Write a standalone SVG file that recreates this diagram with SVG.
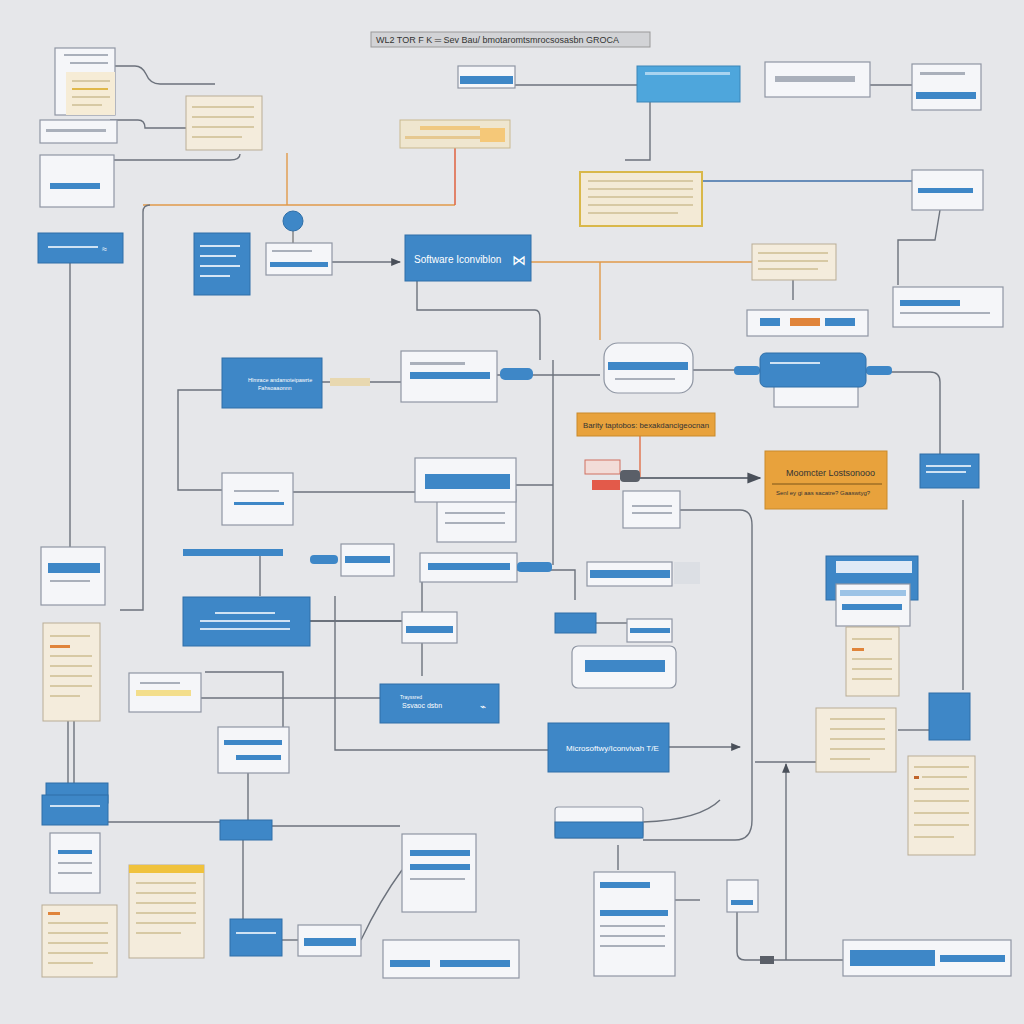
<svg xmlns="http://www.w3.org/2000/svg" width="1024" height="1024" viewBox="0 0 1024 1024">
<style>
.bg{fill:#e6e7ea}
.blue{fill:#3e87c7;stroke:#2f6fa8;stroke-width:1}
.card{fill:#f5f6f9;stroke:#8f96a3;stroke-width:1.2}
.beige{fill:#f4ecdc;stroke:#b9ad95;stroke-width:1}
.bar{fill:#3e87c7}
.ln{fill:#aab0bb}
.ly{fill:#d7c9a4}
.c{fill:none;stroke:#6c727c;stroke-width:1.4}
.co{fill:none;stroke:#e09a4a;stroke-width:1.4}
.cr{fill:none;stroke:#e06a4a;stroke-width:1.6}
.cb{fill:none;stroke:#3e6fa8;stroke-width:1.4}
.t{font-family:"Liberation Sans",Arial,sans-serif;fill:#fff}
.td{font-family:"Liberation Sans",Arial,sans-serif;fill:#333}
</style>
<defs>
<marker id="ar" viewBox="0 0 10 10" refX="9" refY="5" markerWidth="7" markerHeight="7" orient="auto"><path d="M0,1 L10,5 L0,9 z" fill="#4a505a"/></marker>
</defs>
<rect class="bg" width="1024" height="1024"/>

<g id="connectors">
<path class="c" d="M115,66 H135 Q142,66 146,74 Q150,84 160,84 H215"/>
<path class="c" d="M110,120 H138 Q145,120 145,128 H186"/>
<path class="c" d="M114,160 H230 Q240,160 240,154"/>
<path class="co" d="M287,153 V205"/>
<path class="co" d="M143,205 H455"/>
<path class="cr" d="M455,148 V205"/>
<path class="c" d="M150,205 Q143,205 143,212 V610 H120"/>
<path class="c" d="M70,263 V547"/>
<path class="c" d="M515,85 H637"/>
<path class="c" d="M870,85 H912"/>
<path class="c" d="M650,102 V160 H625"/>
<path class="cb" d="M702,181 H912"/>
<path class="c" d="M940,210 L935,240 H898 V285"/>
<path class="c" d="M332,262 H400" marker-end="url(#ar)"/>
<path class="co" d="M531,262 H752"/>
<path class="co" d="M600,262 V340"/>
<path class="c" d="M793,280 V300"/>
<path class="c" d="M417,281 V310 H535 Q540,310 540,318 V360"/>
<path class="c" d="M497,375 H600"/>
<path class="c" d="M553,360 V565"/>
<path class="c" d="M693,370 H760"/>
<path class="c" d="M866,372 H930 Q940,372 940,382 V454"/>
<path class="c" d="M222,390 H178 V490 H222"/>
<path class="c" d="M322,382 H401"/>
<path class="c" d="M293,492 H415"/>
<path class="c" d="M516,485 H553"/>
<path class="co" d="M640,436 V478" style="stroke:#e0704a"/>
<path class="c" d="M620,478 H760" marker-end="url(#ar)" style="stroke-width:2"/>
<path class="c" d="M963,500 V690"/>
<path class="c" d="M680,510 H740 Q752,510 752,525 V820 Q752,840 735,840 H643"/>
<path class="c" d="M517,570 H553 H575 V600"/>
<path class="c" d="M310,621 H402" style="stroke-width:2"/>
<path class="c" d="M335,596 V750 H548"/>
<path class="c" d="M260,556 V596"/>
<path class="c" d="M422,580 V612"/>
<path class="c" d="M422,643 V676"/>
<path class="c" d="M596,623 H627"/>
<path class="c" d="M669,747 H740" marker-end="url(#ar)"/>
<path class="c" d="M201,698 H380"/>
<path class="c" d="M205,672 H283 V727"/>
<path class="c" d="M68,721 V783"/>
<path class="c" d="M74,721 V783"/>
<path class="c" d="M108,822 H220"/>
<path class="c" d="M272,826 H400"/>
<path class="c" d="M243,840 V919"/>
<path class="c" d="M248,773 V820"/>
<path class="c" d="M282,940 H298"/>
<path class="c" d="M361,940 Q380,900 402,870"/>
<path class="c" d="M643,822 Q700,820 720,800"/>
<path class="c" d="M755,762 H816"/>
<path class="c" d="M786,960 V764" marker-end="url(#ar)"/>
<path class="c" d="M737,912 V952 Q737,960 745,960 H843"/>
<path class="c" d="M675,900 H700"/>
<path class="c" d="M898,730 H929"/>
<path class="c" d="M618,845 V870"/>
</g>

<g id="title">
<rect x="371" y="32" width="279" height="15" fill="#d2d3d6" stroke="#999"/>
<text class="td" x="376" y="43" font-size="9">WL2 TOR  F  K  ═ Sev Bau/ bmotaromtsmrocsosasbn GROCA</text>
</g>

<g id="n1"><rect class="card" x="55" y="48" width="60" height="67"/><rect fill="#f6ecd6" x="66" y="72" width="49" height="43"/><rect class="ln" x="64" y="54" width="44" height="2"/><rect class="ln" x="70" y="62" width="38" height="2"/><rect class="ly" x="72" y="80" width="38" height="2"/><rect x="72" y="88" width="36" height="2" fill="#e0b84a"/><rect class="ly" x="72" y="96" width="38" height="2"/><rect class="ly" x="72" y="104" width="30" height="2"/></g>
<g id="n2"><rect class="beige" x="186" y="96" width="76" height="54"/><rect class="ly" x="192" y="106" width="62" height="2"/><rect class="ly" x="192" y="116" width="62" height="2"/><rect class="ly" x="192" y="126" width="62" height="2"/><rect class="ly" x="192" y="136" width="50" height="2"/></g>
<g id="n3"><rect class="card" x="40" y="120" width="77" height="23"/><rect class="ln" x="46" y="129" width="60" height="3"/></g>
<g id="n4"><rect class="card" x="40" y="155" width="74" height="52"/><rect class="bar" x="50" y="183" width="50" height="6"/></g>
<g id="n5"><rect class="blue" x="38" y="233" width="85" height="30"/><rect x="48" y="246" width="50" height="2" fill="#cfe2f3"/><text class="t" x="102" y="252" font-size="9">≈</text></g>
<g id="n6"><rect class="blue" x="194" y="233" width="56" height="62"/><rect x="200" y="245" width="40" height="2" fill="#d6e6f5"/><rect x="200" y="255" width="36" height="2" fill="#d6e6f5"/><rect x="200" y="265" width="40" height="2" fill="#d6e6f5"/><rect x="200" y="275" width="30" height="2" fill="#d6e6f5"/></g>
<g id="n7"><line x1="293" y1="231" x2="293" y2="243" stroke="#555"/><circle cx="293" cy="221" r="10" fill="#3e87c7" stroke="#2f6fa8"/><rect class="card" x="266" y="243" width="66" height="32"/><rect class="bar" x="270" y="262" width="58" height="5"/><rect class="ln" x="272" y="250" width="40" height="2"/></g>
<g id="n8"><rect class="blue" x="405" y="235" width="126" height="46"/><text class="t" x="414" y="263" font-size="10">Software Iconviblon</text><text class="t" x="512" y="265" font-size="14">⋈</text></g>
<g id="n9"><rect fill="#efe6cf" stroke="#c9b98f" x="400" y="120" width="110" height="28"/><rect x="420" y="126" width="60" height="4" fill="#f0c880"/><rect x="405" y="136" width="100" height="3" fill="#e6c890"/><rect x="480" y="128" width="25" height="14" fill="#f5c878"/></g>
<g id="n10"><rect class="card" x="458" y="66" width="57" height="22"/><rect class="bar" x="460" y="76" width="53" height="8"/></g>
<g id="n11"><rect x="637" y="66" width="103" height="36" fill="#4ea6dc" stroke="#3a86b8"/><rect x="645" y="72" width="85" height="3" fill="#a9d4f0"/></g>
<g id="n12"><rect class="card" x="765" y="62" width="105" height="35"/><rect class="ln" x="775" y="76" width="80" height="6"/></g>
<g id="n13"><rect class="card" x="912" y="64" width="69" height="46"/><rect class="bar" x="916" y="92" width="60" height="7"/><rect class="ln" x="920" y="72" width="45" height="3"/></g>
<g id="n14"><rect fill="#f3ead6" stroke="#d9b84a" stroke-width="2" x="580" y="172" width="122" height="54"/><rect class="ly" x="588" y="180" width="105" height="2"/><rect class="ly" x="588" y="188" width="105" height="2"/><rect class="ly" x="588" y="196" width="105" height="2"/><rect class="ly" x="588" y="204" width="105" height="2"/><rect class="ly" x="588" y="212" width="90" height="2"/></g>
<g id="n15"><rect class="card" x="912" y="170" width="71" height="40"/><rect class="bar" x="918" y="188" width="55" height="5"/></g>
<g id="n16"><rect class="beige" x="752" y="244" width="84" height="36"/><rect class="ly" x="758" y="252" width="70" height="2"/><rect class="ly" x="758" y="260" width="70" height="2"/><rect class="ly" x="758" y="268" width="60" height="2"/></g>
<g id="n17"><rect class="card" x="893" y="287" width="110" height="40"/><rect class="bar" x="900" y="300" width="60" height="6"/><rect class="ln" x="900" y="312" width="90" height="2"/></g>
<g id="n18"><rect class="card" x="747" y="310" width="121" height="26"/><rect x="760" y="318" width="20" height="8" fill="#3e87c7"/><rect x="790" y="318" width="30" height="8" fill="#e0843a"/><rect x="825" y="318" width="30" height="8" fill="#3e87c7"/></g>
<g id="n19"><rect class="card" x="604" y="343" width="89" height="50" rx="14"/><rect class="bar" x="608" y="362" width="80" height="8"/><rect class="ln" x="615" y="378" width="60" height="2"/></g>
<g id="n20"><rect class="card" x="774" y="385" width="84" height="22"/><rect x="734" y="366" width="26" height="9" rx="4" fill="#3e87c7"/><rect x="866" y="366" width="26" height="9" rx="4" fill="#3e87c7"/><rect class="blue" x="760" y="353" width="106" height="34" rx="6"/><rect x="770" y="362" width="50" height="2" fill="#cfe2f3"/></g>
<g id="n21"><rect class="blue" x="222" y="358" width="100" height="50"/><text class="t" x="248" y="382" font-size="5.5">Hlmrace andamoteipawrte</text><text class="t" x="258" y="390" font-size="5.5">Fahsoaaonnn</text></g>
<g id="n22"><rect class="card" x="401" y="351" width="96" height="51" stroke-width="1.8"/><rect class="bar" x="410" y="372" width="80" height="7"/><rect class="ln" x="410" y="362" width="55" height="3"/></g>
<g id="n23"><rect x="500" y="368" width="33" height="12" rx="5" fill="#3e87c7"/><rect x="330" y="378" width="40" height="8" fill="#e8d8b0"/></g>
<g id="n24"><rect x="577" y="413" width="138" height="23" fill="#e8a23c" stroke="#c98a2a"/><text class="td" x="583" y="428" font-size="8" textLength="126" lengthAdjust="spacingAndGlyphs" fill="#4a2e0a">Barity taptobos: bexakdancigeocnan</text></g>
<g id="n25"><rect x="765" y="451" width="122" height="58" fill="#e8a23c" stroke="#c98a2a"/><text class="td" x="786" y="476" font-size="9">Moomcter Lostsonooo</text><line x1="772" y1="484" x2="882" y2="484" stroke="#7a5418"/><text class="td" x="776" y="495" font-size="6">Senl ey gi aas sacatre?   Gaaswtyg?</text></g>
<g id="n26"><rect class="blue" x="920" y="454" width="59" height="34"/><rect x="926" y="465" width="45" height="2" fill="#cfe2f3"/><rect x="926" y="471" width="40" height="2" fill="#cfe2f3"/></g>
<g id="n27"><rect x="585" y="460" width="35" height="14" fill="#f2dcd8" stroke="#d07060"/><rect x="592" y="480" width="28" height="10" fill="#e35a4a"/><rect x="620" y="470" width="20" height="12" rx="4" fill="#5a5f68"/></g>
<g id="n28"><rect class="card" x="222" y="473" width="71" height="52" stroke-width="1.8"/><rect class="bar" x="234" y="502" width="50" height="3"/><rect class="ln" x="234" y="490" width="45" height="2"/></g>
<g id="n29"><rect class="card" x="437" y="490" width="79" height="52"/><rect class="card" x="415" y="458" width="101" height="44" stroke-width="1.8"/><rect class="bar" x="425" y="474" width="85" height="15"/><rect class="ln" x="445" y="512" width="60" height="2"/><rect class="ln" x="445" y="522" width="60" height="2"/></g>
<g id="n30"><rect class="card" x="623" y="491" width="57" height="37"/><rect class="ln" x="632" y="505" width="40" height="2"/><rect class="ln" x="632" y="512" width="40" height="2"/></g>
<g id="n31"><rect class="card" x="41" y="547" width="64" height="58"/><rect class="bar" x="48" y="563" width="52" height="10"/><rect class="ln" x="50" y="580" width="40" height="2"/></g>
<g id="n32"><rect x="183" y="549" width="100" height="7" fill="#3e87c7"/></g>
<g id="n33"><rect x="310" y="555" width="28" height="9" rx="4" fill="#3e87c7"/><rect class="card" x="341" y="544" width="53" height="32"/><rect class="bar" x="345" y="556" width="45" height="7"/></g>
<g id="n34"><rect class="card" x="420" y="553" width="97" height="29"/><rect class="bar" x="428" y="563" width="82" height="7"/><rect x="517" y="562" width="35" height="10" rx="4" fill="#3e87c7"/></g>
<g id="n35"><rect class="card" x="587" y="562" width="85" height="24"/><rect class="bar" x="590" y="570" width="80" height="8"/><rect x="674" y="562" width="26" height="22" fill="#dcdfe4"/></g>
<g id="n36"><rect class="blue" x="826" y="556" width="92" height="44"/><rect x="836" y="561" width="76" height="12" fill="#dfeaf6"/><rect class="card" x="836" y="584" width="74" height="42"/><rect x="840" y="590" width="66" height="6" fill="#9cc3e6"/><rect class="bar" x="842" y="604" width="60" height="6"/></g>
<g id="n37"><rect class="blue" x="183" y="597" width="127" height="49"/><rect x="215" y="612" width="60" height="2" fill="#cfe2f3"/><rect x="200" y="620" width="90" height="2" fill="#cfe2f3"/><rect x="200" y="628" width="90" height="2" fill="#cfe2f3"/></g>
<g id="n38"><rect class="card" x="402" y="612" width="55" height="31"/><rect class="bar" x="406" y="626" width="47" height="7"/></g>
<g id="n39"><rect class="blue" x="555" y="613" width="41" height="20"/><rect class="card" x="627" y="619" width="45" height="23"/><rect class="bar" x="630" y="628" width="40" height="5"/></g>
<g id="n40"><rect class="card" x="572" y="646" width="104" height="42" rx="6"/><rect class="bar" x="585" y="660" width="80" height="12"/></g>
<g id="n41"><rect class="beige" x="43" y="623" width="57" height="98"/><rect class="ly" x="50" y="635" width="40" height="2"/><rect x="50" y="645" width="20" height="3" fill="#e0843a"/><rect class="ly" x="50" y="655" width="42" height="2"/><rect class="ly" x="50" y="665" width="42" height="2"/><rect class="ly" x="50" y="675" width="42" height="2"/><rect class="ly" x="50" y="685" width="42" height="2"/><rect class="ly" x="50" y="695" width="30" height="2"/></g>
<g id="n42"><rect class="beige" x="846" y="627" width="53" height="69"/><rect class="ly" x="852" y="638" width="40" height="2"/><rect x="852" y="648" width="12" height="3" fill="#e0843a"/><rect class="ly" x="852" y="658" width="40" height="2"/><rect class="ly" x="852" y="668" width="40" height="2"/><rect class="ly" x="852" y="678" width="40" height="2"/></g>
<g id="n43"><rect class="card" x="129" y="673" width="72" height="39"/><rect x="136" y="690" width="55" height="6" fill="#f3de8c"/><rect class="ln" x="140" y="682" width="40" height="2"/></g>
<g id="n44"><rect class="blue" x="380" y="684" width="119" height="39"/><text class="t" x="400" y="699" font-size="5">Trayssred</text><text class="t" x="402" y="708" font-size="7">Ssvaoc dsbn</text><text class="t" x="480" y="710" font-size="10">⌁</text></g>
<g id="n45"><rect class="card" x="218" y="727" width="71" height="46"/><rect class="bar" x="224" y="740" width="58" height="5"/><rect class="bar" x="236" y="755" width="45" height="5"/></g>
<g id="n46"><rect class="blue" x="548" y="723" width="121" height="49"/><text class="t" x="566" y="751" font-size="8">Microsoftwy/Iconvivah T/E</text></g>
<g id="n47"><rect class="blue" x="929" y="693" width="41" height="47"/></g>
<g id="n48"><rect class="beige" x="816" y="708" width="80" height="64"/><rect class="ly" x="830" y="718" width="55" height="2"/><rect class="ly" x="830" y="728" width="55" height="2"/><rect class="ly" x="830" y="738" width="55" height="2"/><rect class="ly" x="830" y="748" width="55" height="2"/><rect class="ly" x="830" y="758" width="40" height="2"/></g>
<g id="n49"><rect class="beige" x="908" y="756" width="67" height="99"/><rect class="ly" x="914" y="766" width="55" height="2"/><rect x="914" y="776" width="5" height="3" fill="#c0642a"/><rect class="ly" x="922" y="776" width="45" height="2"/><rect class="ly" x="914" y="788" width="55" height="2"/><rect class="ly" x="914" y="800" width="55" height="2"/><rect class="ly" x="914" y="812" width="55" height="2"/><rect class="ly" x="914" y="824" width="55" height="2"/><rect class="ly" x="914" y="836" width="40" height="2"/></g>
<g id="n50"><rect class="blue" x="46" y="783" width="62" height="20"/><rect class="blue" x="42" y="795" width="66" height="30"/><rect x="50" y="805" width="50" height="2" fill="#cfe2f3"/></g>
<g id="n51"><rect class="card" x="50" y="833" width="50" height="60"/><rect class="bar" x="58" y="850" width="34" height="4"/><rect class="ln" x="58" y="862" width="34" height="2"/><rect class="ln" x="58" y="872" width="34" height="2"/></g>
<g id="n52"><rect class="beige" x="129" y="865" width="75" height="93"/><rect x="129" y="865" width="75" height="8" fill="#f0c23c"/><rect class="ly" x="136" y="882" width="60" height="2"/><rect class="ly" x="136" y="892" width="60" height="2"/><rect class="ly" x="136" y="902" width="60" height="2"/><rect class="ly" x="136" y="912" width="60" height="2"/><rect class="ly" x="136" y="922" width="60" height="2"/><rect class="ly" x="136" y="932" width="45" height="2"/></g>
<g id="n53"><rect class="beige" x="42" y="905" width="75" height="72"/><rect x="48" y="912" width="12" height="3" fill="#e0843a"/><rect class="ly" x="48" y="922" width="60" height="2"/><rect class="ly" x="48" y="932" width="60" height="2"/><rect class="ly" x="48" y="942" width="60" height="2"/><rect class="ly" x="48" y="952" width="60" height="2"/><rect class="ly" x="48" y="962" width="45" height="2"/></g>
<g id="n54"><rect class="blue" x="220" y="820" width="52" height="20"/></g>
<g id="n55"><rect class="card" x="402" y="834" width="74" height="78"/><rect class="bar" x="410" y="850" width="60" height="6"/><rect class="bar" x="410" y="864" width="60" height="6"/><rect class="ln" x="410" y="878" width="55" height="2"/></g>
<g id="n56"><rect class="card" x="555" y="807" width="88" height="31" rx="3"/><rect class="blue" x="555" y="822" width="88" height="16"/></g>
<g id="n57"><rect class="blue" x="230" y="919" width="52" height="37"/><rect x="236" y="932" width="40" height="2" fill="#cfe2f3"/></g>
<g id="n58"><rect class="card" x="298" y="925" width="63" height="31"/><rect class="bar" x="304" y="938" width="52" height="8"/></g>
<g id="n59"><rect class="card" x="383" y="940" width="136" height="38" stroke-width="1.8"/><rect class="bar" x="390" y="960" width="40" height="7"/><rect class="bar" x="440" y="960" width="70" height="7"/></g>
<g id="n60"><rect class="card" x="594" y="872" width="81" height="104"/><rect class="bar" x="600" y="882" width="50" height="6"/><rect class="bar" x="600" y="910" width="68" height="6"/><rect class="ln" x="600" y="925" width="65" height="2"/><rect class="ln" x="600" y="935" width="65" height="2"/><rect class="ln" x="600" y="945" width="65" height="2"/></g>
<g id="n61"><rect class="card" x="727" y="880" width="31" height="32"/><rect class="bar" x="731" y="900" width="22" height="5"/></g>
<g id="n62"><rect x="760" y="956" width="14" height="8" fill="#5a5f68"/><rect class="card" x="843" y="940" width="168" height="36"/><rect class="bar" x="850" y="950" width="85" height="16"/><rect class="bar" x="940" y="955" width="65" height="7"/></g>
</svg>
